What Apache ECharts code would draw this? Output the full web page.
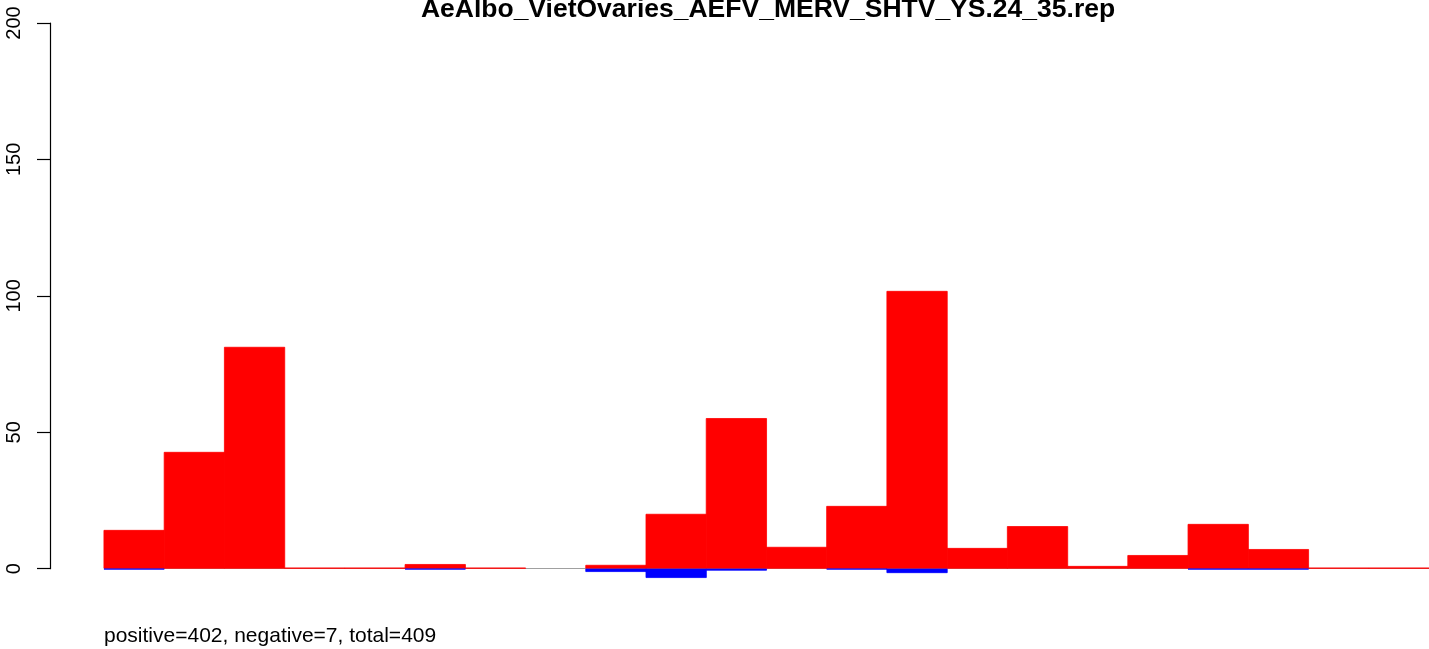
<!DOCTYPE html>
<html>
<head>
<meta charset="utf-8">
<script src="https://cdn.jsdelivr.net/npm/echarts@6/dist/echarts.min.js"></script>
<style>
html,body{margin:0;padding:0;background:#fff;}
#chart{width:1429px;height:649px;}
</style>
</head>
<body>
<div id="chart"></div>
<script>
var categories = ['14','15','16','17','18','19','20','21','22','23','24','25','26','27','28','29','30','31','32','33','34','35'];
var positiveValues = [14.2, 42.8, 81.3, 0.4, 0.4, 1.7, 0.4, null, 1.4, 20.1, 55.2, 8.0, 23.0, 101.8, 7.6, 15.6, 1.0, 5.0, 16.4, 7.2, 0.4, 0.4];
var negativeValues = [-0.3, null, null, null, null, -0.3, null, null, -1.2, -3.4, -0.7, null, -0.3, -1.6, null, null, null, null, -0.3, -0.3, null, null];
var yTicks = [0, 50, 100, 150, 200];
var titleText = 'AeAlbo_VietOvaries_AEFV_MERV_SHTV_YS.24_35.rep';
var footerText = 'positive=402, negative=7, total=409';

var FONT = '"Liberation Sans", Arial, Helvetica, sans-serif';
var chart = echarts.init(document.getElementById('chart'), null, {renderer: 'canvas'});
chart.setOption({
  animation: false,
  backgroundColor: '#ffffff',
  grid: {left: 104, right: 0, top: 23, bottom: 80.3, containLabel: false},
  xAxis: {
    type: 'category',
    data: categories,
    show: false,
    boundaryGap: true
  },
  yAxis: {
    type: 'value',
    min: yTicks[0],
    max: yTicks[yTicks.length - 1],
    interval: 50,
    offset: 54,
    splitLine: {show: false},
    axisLine: {show: true, lineStyle: {color: '#000', width: 1.2}},
    axisTick: {show: true, inside: false, length: 13, lineStyle: {color: '#000', width: 1.2}},
    axisLabel: {
      show: true,
      rotate: 90,
      margin: 26,
      color: '#000',
      fontSize: 20,
      fontFamily: FONT
    }
  },
  series: [
    {
      type: 'line',
      data: [],
      z: 0,
      silent: true,
      markLine: {
        silent: true,
        symbol: 'none',
        z: 0,
        label: {show: false},
        lineStyle: {color: '#a0a0a0', width: 1, type: 'solid'},
        data: [{yAxis: 0}]
      }
    },
    {
      type: 'bar',
      name: 'positive',
      data: positiveValues,
      barWidth: '101.5%',
      barGap: '-100%',
      clip: false,
      z: 3,
      itemStyle: {color: '#FF0000', borderColor: '#FF0000', borderWidth: 0.8}
    },
    {
      type: 'bar',
      name: 'negative',
      data: negativeValues,
      barWidth: '101.5%',
      barGap: '-100%',
      clip: false,
      z: 4,
      itemStyle: {color: '#0000FF', borderColor: '#0000FF', borderWidth: 0.8}
    }
  ],
  graphic: [
    {
      type: 'text',
      x: 768,
      y: 23,
      style: {
        text: titleText,
        fill: '#000',
        font: 'bold 26.5px ' + FONT,
        textAlign: 'center',
        verticalAlign: 'bottom'
      }
    },
    {
      type: 'text',
      x: 104,
      y: 647,
      style: {
        text: footerText,
        fill: '#000',
        font: '21px ' + FONT,
        textAlign: 'left',
        verticalAlign: 'bottom'
      }
    }
  ]
});
</script>
</body>
</html>
